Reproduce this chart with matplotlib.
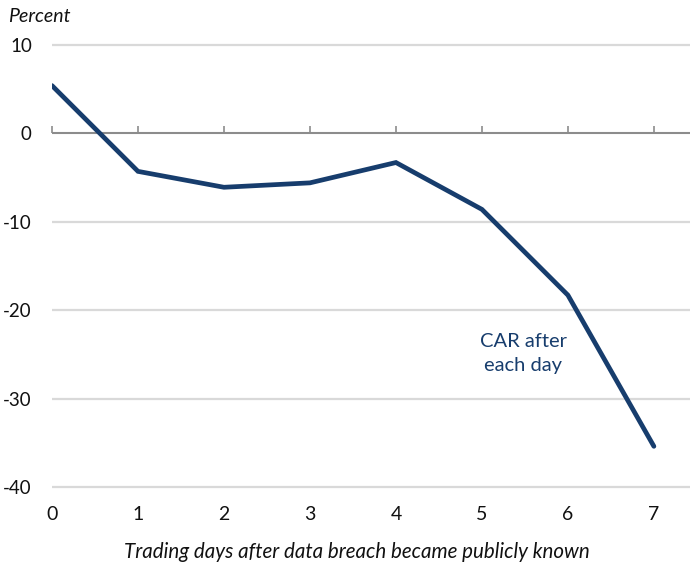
import matplotlib
matplotlib.use("Agg")
import matplotlib.pyplot as plt

# CAR after each trading day, in percent
days = [0, 1, 2, 3, 4, 5, 6, 7]
car = [5.4, -4.3, -6.1, -5.6, -3.3, -8.6, -18.3, -35.4]
y_ticks = [10, 0, -10, -20, -30, -40]

navy = "#173d6d"
plt.rcParams["font.family"] = ["Lato", "DejaVu Sans"]
plt.rcParams["axes.unicode_minus"] = False

fig = plt.figure(figsize=(6.9, 5.63), dpi=100)
ax = fig.add_axes([52 / 690, 0.1303, 1 - 52 / 690, 0.9249 - 0.1303])

ax.set_xlim(0, 7.42)
ax.set_ylim(-40.3, 10.3)

# grid lines, zero line is darker
for v in y_ticks:
    if v == 0:
        continue
    ax.axhline(v, color="#d9d9d9", lw=1.6, zorder=1)
ax.axhline(0, color="#8c8c8c", lw=1.5, zorder=2)

ax.plot(days, car, color=navy, lw=3.4, solid_capstyle="round",
        solid_joinstyle="miter", zorder=3)

ax.set_yticks(y_ticks)
ax.set_xticks(days)
ax.tick_params(axis="y", length=0, pad=14.5, labelsize=13.5, labelcolor="#111111")
ax.tick_params(axis="x", length=0, pad=12, labelsize=14, labelcolor="#111111")
for s in ax.spines.values():
    s.set_visible(False)

# small tick marks hanging from the zero line
sec = ax.secondary_xaxis(40.3 / 50.6)
sec.set_xticks(days)
sec.tick_params(axis="x", direction="out", length=5, width=1.2,
                color="#8c8c8c", labelbottom=False, labeltop=False)
sec.spines["bottom"].set_visible(False)
sec.spines["top"].set_visible(False)

ax.text(5.48, -24.9, "CAR after\neach day", color=navy, fontsize=14.5,
        ha="center", va="center", linespacing=1.45)

fig.text(8 / 690, 1 - 17 / 563, "Percent", fontsize=14, style="italic",
         ha="left", va="center", color="#111111")
fig.text(357 / 690, 1 - 552 / 563,
         "Trading days after data breach became publicly known",
         fontsize=14.8, style="italic", ha="center", va="center",
         color="#111111")

fig.savefig("out.png", dpi=100)
